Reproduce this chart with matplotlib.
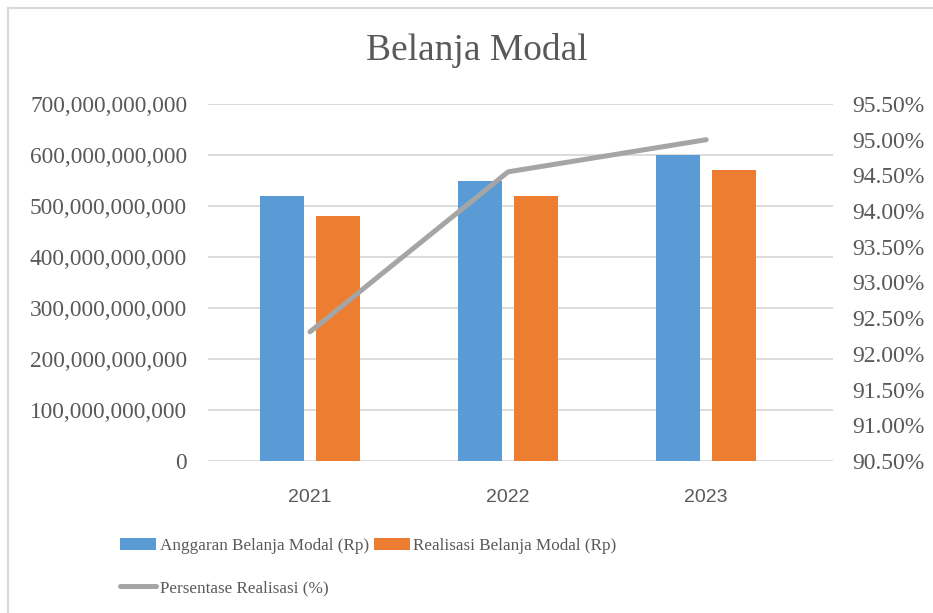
import numpy as np
import matplotlib
matplotlib.use('Agg')
from matplotlib import pyplot as plt
from matplotlib.ticker import FuncFormatter, MultipleLocator
from matplotlib.lines import Line2D

years = ['2021', '2022', '2023']
anggaran = [520e9, 550e9, 600e9]
realisasi = [480e9, 520e9, 570e9]
persen = [92.31, 94.55, 95.00]

txt = '#595959'
serif = 'Liberation Serif'

fig = plt.figure(figsize=(9.33, 6.13), dpi=100)
W, H = 933, 613
ax = fig.add_axes([208 / W, 1 - 461 / H, (833 - 208) / W, (461 - 104) / H])

x = np.arange(len(years))
bw = 0.222
b1 = ax.bar(x - 0.142, anggaran, bw, color='#5B9BD5', label='Anggaran Belanja Modal (Rp)', zorder=2)
b2 = ax.bar(x + 0.142, realisasi, bw, color='#ED7D31', label='Realisasi Belanja Modal (Rp)', zorder=2)

ax.set_ylim(0, 700e9)
ax.set_xlim(-0.515, 2.64)
ax.yaxis.set_major_locator(MultipleLocator(100e9))
ax.yaxis.set_major_formatter(FuncFormatter(lambda v, p: f'{v:,.0f}'))
ax.grid(axis='y', color='#D9D9D9', lw=1.3, zorder=0)
ax.set_axisbelow(True)
for s in ax.spines.values():
    s.set_visible(False)
ax.tick_params(axis='y', length=0, pad=15, labelsize=16.8, labelcolor=txt)
ax.tick_params(axis='x', length=0, pad=20, labelsize=14, labelcolor=txt)
ax.set_xticks(x)
ax.set_xticklabels(years, family='Liberation Sans')
for t in ax.get_yticklabels():
    t.set_family(serif)

ax2 = ax.twinx()
ln, = ax2.plot(x, persen, color='#A5A5A5', lw=3.6, solid_capstyle='round', zorder=3,
               label='Persentase Realisasi (%)')
ax2.set_ylim(90.5, 95.5)
ax2.yaxis.set_major_locator(MultipleLocator(0.5))
ax2.yaxis.set_major_formatter(FuncFormatter(lambda v, p: f'{v:.2f}%'))
for s in ax2.spines.values():
    s.set_visible(False)
ax2.tick_params(axis='y', length=0, pad=14, labelsize=17, labelcolor=txt)
for t in ax2.get_yticklabels():
    t.set_family(serif)

fig.text(477 / W, 1 - 51 / H, 'Belanja Modal', ha='center', va='center',
         fontsize=27, color=txt, family=serif)

handles = [b1, ln, b2]
labels = [h.get_label() for h in handles]
fig.legend(handles, labels, ncol=2, loc='center left', bbox_to_anchor=(105 / W, 1 - 567 / H),
           frameon=False, prop={'family': serif, 'size': 12.3}, labelcolor=txt,
           handlelength=2.1, handletextpad=0.2, columnspacing=0.3, labelspacing=1.5,
           handleheight=0.75)

# chart border (top and left edges visible)
fig.add_artist(Line2D([8 / W, 8 / W], [0, 1 - 8 / H], transform=fig.transFigure, color='#D9D9D9', lw=1.5))
fig.add_artist(Line2D([8 / W, 1], [1 - 8 / H, 1 - 8 / H], transform=fig.transFigure, color='#D9D9D9', lw=1.5))

fig.savefig('out.png', dpi=100)
